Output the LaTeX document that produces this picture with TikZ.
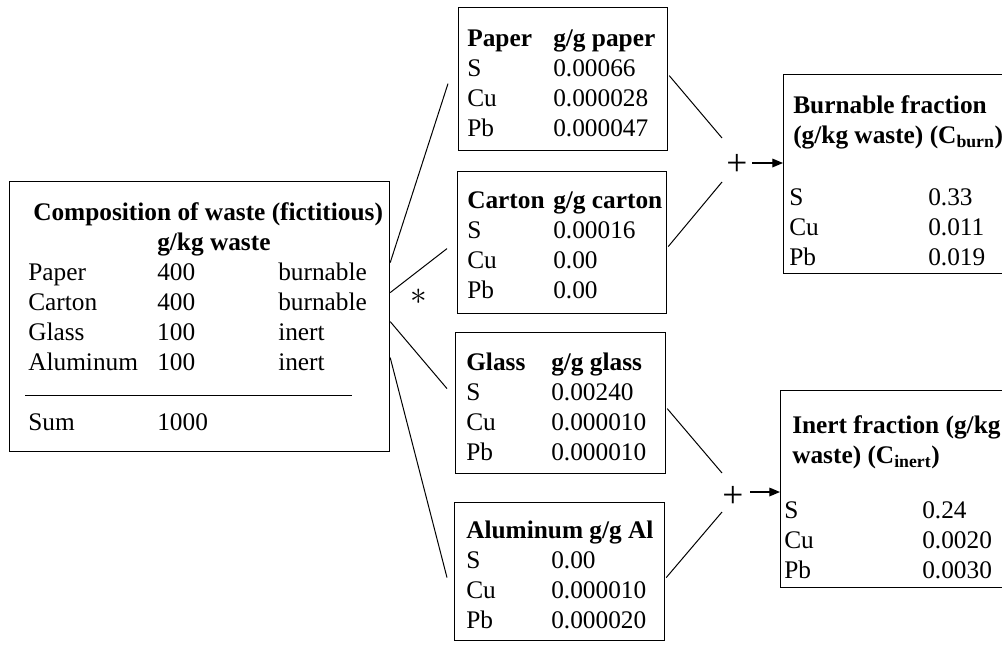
\documentclass[tikz,border=0pt]{standalone}
\usepackage{fontspec}
\setmainfont{Liberation Serif}
\usepackage{array}
\usetikzlibrary{arrows.meta}
\begin{document}
\begin{tikzpicture}[x=0.75pt,y=-0.75pt,
  box/.style={draw, line width=0.9pt, rectangle, inner sep=0pt, anchor=north west},
  txt/.style={anchor=base west, inner sep=0pt, font=\fontsize{19}{22.5}\selectfont},
  conn/.style={line width=0.75pt},
  arr/.style={line width=0.9pt, -{Stealth[length=8pt,width=6.5pt,inset=0pt]}},
  plussign/.style={inner sep=0pt, font=\fontsize{28}{28}\selectfont}]
\useasboundingbox (0,0) rectangle (1002,644);

% boxes
\node[box, minimum width=285pt, minimum height=202.5pt] (comp) at (9,181) {};
\node[box, minimum width=156.75pt, minimum height=107.25pt] (paper) at (458,7) {};
\node[box, minimum width=156.75pt, minimum height=106.5pt] (carton) at (457,171) {};
\node[box, minimum width=157.5pt, minimum height=105.75pt] (glass) at (455,332) {};
\node[box, minimum width=157.5pt, minimum height=103.5pt] (alu) at (454,502) {};
\node[box, minimum width=175pt, minimum height=149.25pt] (burn) at (783,74) {};
\node[box, minimum width=177pt, minimum height=147.75pt] (inert) at (780,390) {};

% texts
\node[txt] (comptxt) at (28,220) {\begin{tabular}[t]{@{}p{96.75pt}@{}p{90.75pt}@{}l@{}}
\multicolumn{3}{@{}l@{}}{\hspace{3.75pt}\bfseries Composition of waste (fictitious)}\\
 & \bfseries g/kg waste & \\
Paper & 400 & burnable\\
Carton & 400 & burnable\\
Glass & 100 & inert\\
Aluminum & 100 & inert\\
 & & \\
Sum & 1000 & 
\end{tabular}};
\draw[line width=0.75pt] (25,395) -- (352,395);

\node[txt] (papertxt) at (467,46) {\begin{tabular}[t]{@{}p{64.5pt}@{}l@{}}
\bfseries Paper & \bfseries g/g paper\\
S & 0.00066\\
Cu & 0.000028\\
Pb & 0.000047
\end{tabular}};

\node[txt] (cartontxt) at (467,208) {\begin{tabular}[t]{@{}p{64.5pt}@{}l@{}}
\bfseries Carton & \bfseries g/g carton\\
S & 0.00016\\
Cu & 0.00\\
Pb & 0.00
\end{tabular}};

\node[txt] (glasstxt) at (466,370) {\begin{tabular}[t]{@{}p{63.75pt}@{}l@{}}
\bfseries Glass & \bfseries g/g glass\\
S & 0.00240\\
Cu & 0.000010\\
Pb & 0.000010
\end{tabular}};

\node[txt] (alutxt) at (466,538) {\begin{tabular}[t]{@{}p{63.75pt}@{}l@{}}
\multicolumn{2}{@{}l@{}}{\bfseries Aluminum g/g Al}\\
S & 0.00\\
Cu & 0.000010\\
Pb & 0.000020
\end{tabular}};

\node[txt] (burntxt) at (789,113) {\begin{tabular}[t]{@{}p{104.25pt}@{}l@{}}
\multicolumn{2}{@{}l@{}}{\hspace{3pt}\bfseries Burnable fraction}\\
\multicolumn{2}{@{}l@{}}{\hspace{3pt}\bfseries (g/kg waste) (C\textsubscript{burn})}\\[24pt]
S & 0.33\\
Cu & 0.011\\
Pb & 0.019
\end{tabular}};

\node[txt] (inerttxt) at (784,433) {\begin{tabular}[t]{@{}p{103.5pt}@{}l@{}}
\multicolumn{2}{@{}l@{}}{\hspace{6pt}\bfseries Inert fraction (g/kg}\\
\multicolumn{2}{@{}l@{}}{\hspace{6pt}\bfseries waste) (C\textsubscript{inert})}\\[19pt]
S & 0.24\\
Cu & 0.0020\\
Pb & 0.0030
\end{tabular}};

% asterisk and plus signs
\node[inner sep=0pt, font=\fontsize{34}{34}\selectfont] (star) at (419,297) {$\ast$};
\node[plussign] (plusA) at (737,165) {+};
\node[plussign] (plusB) at (733,497) {+};

% connectors from composition box
\draw[conn] ([shift={(0,-54)}]comp.east) -- ([shift={(-10,4.5)}]paper.west);
\draw[conn] ([shift={(0,-24)}]comp.east) -- ([shift={(-10,6)}]carton.west);
\draw[conn] ([shift={(0,5)}]comp.east) -- ([shift={(-8,-14.5)}]glass.west);
\draw[conn] ([shift={(0,41)}]comp.east) -- ([shift={(-7,6)}]alu.west);

% connectors into plus signs
\draw[conn] ([shift={(1,-3.5)}]paper.east) -- ([shift={(-15,-27)}]plusA.center);
\draw[conn] ([shift={(1,4)}]carton.east) -- ([shift={(-15,17)}]plusA.center);
\draw[conn] ([shift={(1,5.5)}]glass.east) -- ([shift={(-11,-24)}]plusB.center);
\draw[conn] ([shift={(1,6)}]alu.east) -- ([shift={(-11,15)}]plusB.center);

% arrows
\coordinate (aA) at ([shift={(15,-2)}]plusA.center);
\coordinate (aB) at ([shift={(17,-5)}]plusB.center);
\draw[arr] (aA) -- (aA -| burn.west);
\draw[arr] (aB) -- (aB -| inert.west);
\end{tikzpicture}
\end{document}
